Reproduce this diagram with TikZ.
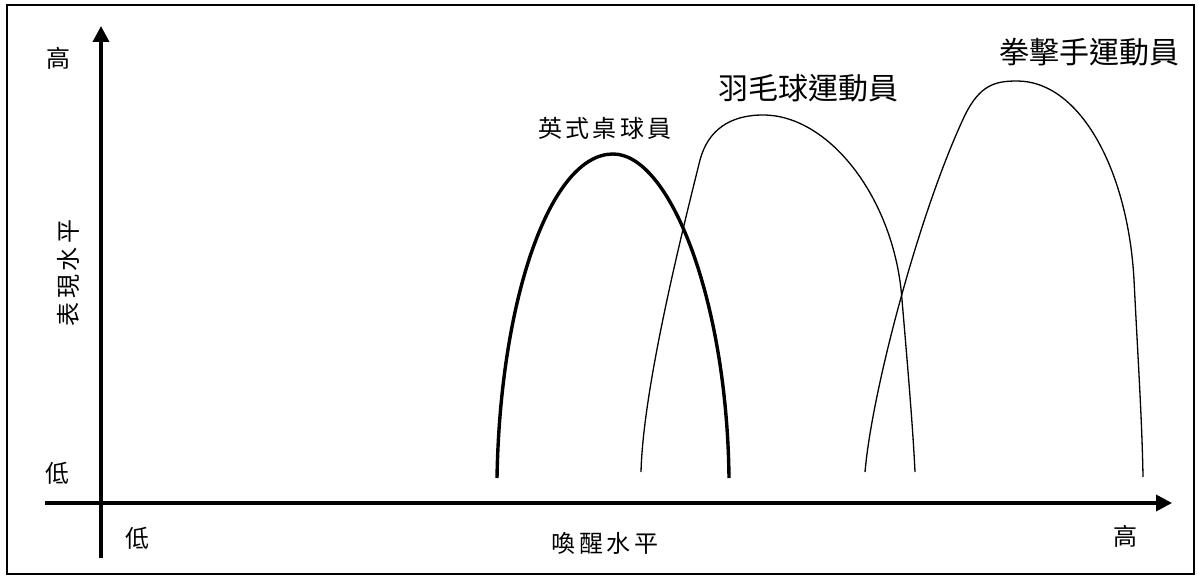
\documentclass[tikz,border=0pt]{standalone}
\usepackage{fontspec}
\setmainfont{Noto Sans CJK TC}
\usetikzlibrary{arrows.meta}
\begin{document}
\begin{tikzpicture}[x=1pt,y=-1pt,
  axis/.style={line width=3.6pt,-{Triangle[length=16pt,width=16pt]}},
  curvethin/.style={line width=1.3pt,line join=round},
  curvethick/.style={line width=3.4pt,line join=round},
  lbl/.style={font=\fontsize{24}{24}\selectfont\addfontfeature{LetterSpace=14},inner sep=0pt},
  hand/.style={font=\fontsize{30}{30}\selectfont,inner sep=0pt}]
\useasboundingbox (0,0) rectangle (1198,577);
\draw[line width=1.4pt] (7,5) rectangle (1194,574);
% axes
\coordinate (yb) at (101,558);
\coordinate (yt) at (101,26);
\coordinate (xl) at (45,503);
\coordinate (xr) at (1172,503);
\draw[axis] (yb) -- (yt);
\draw[axis] (xl) -- (xr);
% axis labels
\node[lbl] (yhigh) at (58,58) {高};
\node[lbl,rotate=90] (ytitle) at (68,273) {表現水平};
\node[lbl] (ylow) at (57,473) {低};
\node[lbl] (xlow) at (137,538) {低};
\node[lbl] (xtitle) at (605,543) {喚醒水平};
\node[lbl] (xhigh) at (1125,536) {高};
% curves
\draw[curvethick] (497,478) .. controls (500,300) and (550,154) .. (613,154)
  .. controls (670,154) and (727,300) .. (729,478);
\draw[curvethin] (641,472) .. controls (643,390) and (680,240) .. (700,160)
  .. controls (708,130) and (730,115) .. (763,115)
  .. controls (830,115) and (895,200) .. (902,300)
  .. controls (908,370) and (913,430) .. (915,472);
\draw[curvethin] (865,472) .. controls (872,390) and (920,210) .. (965,115)
  .. controls (980,85) and (995,81) .. (1017,81)
  .. controls (1080,81) and (1128,170) .. (1134,280)
  .. controls (1138,360) and (1142,420) .. (1143,477);
% curve labels
\node[lbl] (c1) at (605,128) {英式桌球員};
\node[hand] (c2) at (808,88) {羽毛球運動員};
\node[hand] (c3) at (1089,52) {拳擊手運動員};
\end{tikzpicture}
\end{document}
